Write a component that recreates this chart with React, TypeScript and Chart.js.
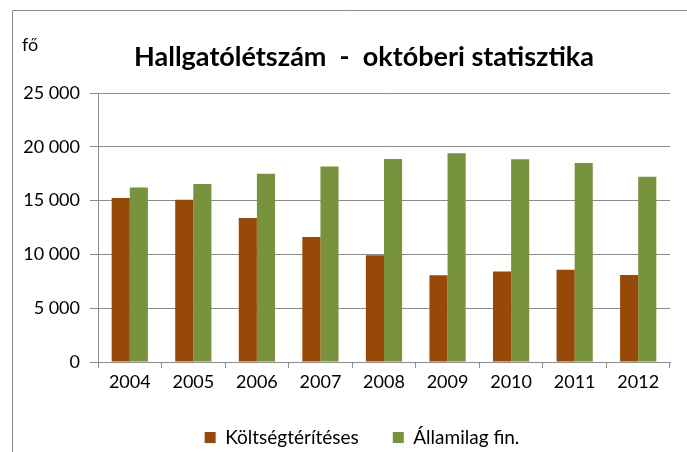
import React, { useEffect, useRef } from "react";
import { Chart, registerables } from "chart.js";

Chart.register(...registerables);

const categories = ["2004", "2005", "2006", "2007", "2008", "2009", "2010", "2011", "2012"];
const koltsegteriteses = [15250, 15080, 13380, 11620, 9920, 8060, 8400, 8580, 8090];
const allamilag = [16220, 16540, 17500, 18180, 18870, 19400, 18840, 18500, 17220];
const seriesNames = ["Költségtérítéses", "Államilag fin."];
const chartTitle = "Hallgatólétszám  -  októberi statisztika";
const unitLabel = "fő";

const FONT = "Lato, 'Open Sans', sans-serif";

const decorPlugin = {
  id: "decor",
  afterLayout(chart: any) {
    const lg = chart.legend;
    if (lg) {
      lg.left += 42;
      lg.right += 0;
    }
  },
  beforeDraw(chart: any) {
    const ctx = chart.ctx;
    ctx.save();
    ctx.strokeStyle = "#8c8c8c";
    ctx.lineWidth = 1;
    ctx.beginPath();
    ctx.moveTo(12.5, 452);
    ctx.lineTo(12.5, 10.5);
    ctx.lineTo(687, 10.5);
    ctx.stroke();
    ctx.restore();
  },
  afterDraw(chart: any) {
    const ctx = chart.ctx;
    ctx.save();
    ctx.fillStyle = "#000";
    ctx.textBaseline = "middle";
    ctx.textAlign = "left";
    ctx.font = `18px ${FONT}`;
    ctx.fillText(unitLabel, 22, 45);
    ctx.textAlign = "center";
    ctx.font = `bold 27px ${FONT}`;
    ctx.fillText(chartTitle, 364, 57);
    ctx.restore();
  },
};

export default function App() {
  const ref = useRef<HTMLCanvasElement>(null);
  useEffect(() => {
    const chart = new Chart(ref.current!, {
      type: "bar",
      data: {
        labels: categories,
        datasets: [
          {
            label: seriesNames[0],
            data: koltsegteriteses,
            backgroundColor: "#984807",
            borderWidth: 0,
            barPercentage: 1,
            categoryPercentage: 0.57,
          },
          {
            label: seriesNames[1],
            data: allamilag,
            backgroundColor: "#77933C",
            borderWidth: 0,
            barPercentage: 1,
            categoryPercentage: 0.57,
          },
        ],
      },
      options: {
        animation: false,
        responsive: false,
        layout: { padding: { left: 12, right: 17, top: 93, bottom: -5 } },
        plugins: {
          title: { display: false },
          tooltip: { enabled: false },
          legend: {
            position: "bottom",
            labels: {
              boxWidth: 11,
              boxHeight: 11,
              padding: 34,
              color: "#000",
              font: { family: FONT, size: 19 },
            },
          },
        },
        scales: {
          x: {
            afterFit: (s: any) => {
              s.height = 32;
            },
            grid: {
              offset: true,
              drawOnChartArea: false,
              drawTicks: true,
              tickLength: 6,
              color: "#8c8c8c",
            },
            border: { color: "#8c8c8c", width: 1 },
            ticks: { color: "#000", font: { family: FONT, size: 18 }, padding: 3 },
          },
          y: {
            min: 0,
            max: 25000,
            afterFit: (s: any) => {
              s.width = 86;
            },
            grid: { color: "#8c8c8c", tickLength: 8, lineWidth: 1 },
            border: { color: "#8c8c8c", width: 1 },
            ticks: {
              stepSize: 5000,
              color: "#000",
              padding: 10,
              font: { family: FONT, size: 18 },
              callback: (v: any) => String(v).replace(/\B(?=(\d{3})+(?!\d))/g, " "),
            },
          },
        },
      },
      plugins: [decorPlugin],
    });
    return () => chart.destroy();
  }, []);
  return (
    <div style={{ position: "fixed", left: 0, top: 0, width: 687, height: 452, background: "#fff" }}>
      <canvas ref={ref} width={687} height={452} style={{ width: 687, height: 452 }} />
    </div>
  );
}
